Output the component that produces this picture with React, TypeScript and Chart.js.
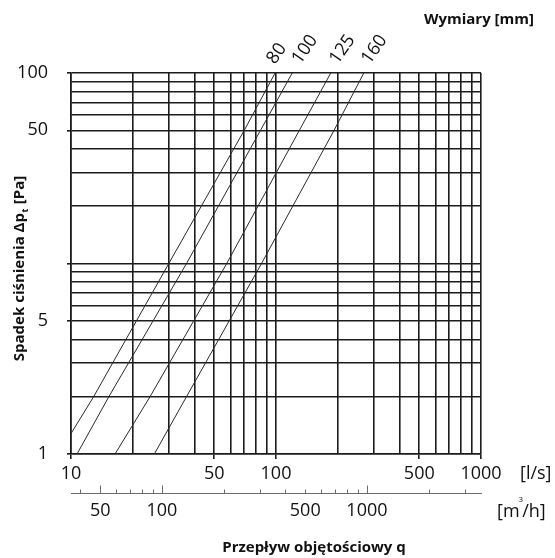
import React, { useEffect, useRef } from 'react';
import { Chart, registerables } from 'chart.js';

Chart.register(...registerables);

// ---- data ----
const flowGrid = [10, 20, 30, 40, 50, 60, 70, 80, 90, 100, 200, 300, 400, 500, 600, 700, 800, 900, 1000];
const flowLabels = [10, 50, 100, 500, 1000];
const pressureGrid = [1, 2, 3, 4, 5, 6, 7, 8, 9, 10, 20, 30, 40, 50, 60, 70, 80, 90, 100];
const pressureLabels = [1, 5, 50, 100];
const pressureTickMarks = [1, 5, 10, 50, 100];
const m3hLabels = [50, 100, 500, 1000];
const m3hMajorTicks = [50, 100, 1000];
const m3hMinorTicks = [40, 60, 70, 80, 90, 200, 300, 400, 500, 600, 700, 800, 900, 2000, 3000];
const LS_TO_M3H = 3.6;

const ductSizes = ['80', '100', '125', '160'];
const flow80 = [10, 12.9, 30, 70, 99];
const dp80 = [1.28, 2, 10, 50, 100];
const flow100 = [10.7, 15.3, 36.6, 84, 120];
const dp100 = [1, 2, 10, 50, 100];
const flow125 = [16.4, 24.3, 57.5, 130, 185];
const dp125 = [1, 2, 10, 50, 100];
const flow160 = [25.5, 36.6, 85, 192, 268];
const dp160 = [1, 2, 10, 50, 100];

const seriesFlows = [flow80, flow100, flow125, flow160];
const seriesDps = [dp80, dp100, dp125, dp160];

// ---- style ----
const FONT = '"Open Sans", "Noto Sans", "DejaVu Sans", sans-serif';
const GRID = '#1c1c1c';
const INK = '#111111';
const labelDx = [0, 8, 7, 6];

const overlayPlugin = {
  id: 'overlay',
  afterDraw(chart: any) {
    const ctx = chart.ctx as CanvasRenderingContext2D;
    const x2 = chart.scales.x2;
    ctx.save();
    // secondary axis tick marks (upward)
    ctx.strokeStyle = '#6a6a6a';
    ctx.lineWidth = 1;
    const y0 = Math.round(x2.top) + 0.5;
    const drawTick = (v: number, len: number) => {
      const px = Math.round(x2.getPixelForValue(v)) + 0.5;
      ctx.beginPath();
      ctx.moveTo(px, y0);
      ctx.lineTo(px, y0 - len);
      ctx.stroke();
    };
    m3hMajorTicks.forEach((v) => drawTick(v, 8));
    m3hMinorTicks.forEach((v) => drawTick(v, 4));

    ctx.fillStyle = INK;
    // unit labels
    ctx.font = `18px ${FONT}`;
    ctx.textAlign = 'left';
    ctx.textBaseline = 'middle';
    ctx.fillText('[l/s]', 520, 474);
    const m1 = '[m';
    const m2 = '/h]';
    ctx.fillText(m1, 497, 512);
    const w1 = ctx.measureText(m1).width;
    ctx.font = `8px ${FONT}`;
    ctx.fillText('3', 497 + w1 - 1, 500);
    const ws = ctx.measureText('3').width;
    ctx.font = `18px ${FONT}`;
    ctx.fillText(m2, 497 + w1 + ws - 2, 512);

    // x title
    ctx.font = `bold 15px ${FONT}`;
    ctx.textAlign = 'center';
    ctx.fillText('Przepływ objętościowy q', 314, 548);

    // top right title
    ctx.textAlign = 'right';
    ctx.fillText('Wymiary [mm]', 534, 20);

    // y title with subscript
    ctx.save();
    ctx.translate(20, 269);
    ctx.rotate(-Math.PI / 2);
    ctx.textAlign = 'left';
    const a = 'Spadek ciśnienia Δp';
    const b = 't';
    const c = ' [Pa]';
    ctx.font = `bold 15px ${FONT}`;
    const wa = ctx.measureText(a).width;
    const wc = ctx.measureText(c).width;
    ctx.font = `bold 9px ${FONT}`;
    const wb = ctx.measureText(b).width;
    const sx = -(wa + wb + wc) / 2;
    ctx.font = `bold 15px ${FONT}`;
    ctx.fillText(a, sx, 0);
    ctx.font = `bold 9px ${FONT}`;
    ctx.fillText(b, sx + wa + 0.5, 5);
    ctx.font = `bold 15px ${FONT}`;
    ctx.fillText(c, sx + wa + wb + 1, 0);
    ctx.restore();

    // duct size labels at the top end of each line
    ctx.font = `18px ${FONT}`;
    ctx.textAlign = 'left';
    ctx.textBaseline = 'alphabetic';
    chart.data.datasets.forEach((ds: any, i: number) => {
      const meta = chart.getDatasetMeta(i);
      const pt = meta.data[meta.data.length - 1];
      ctx.save();
      ctx.translate(pt.x + labelDx[i], pt.y - 8);
      ctx.rotate((-55 * Math.PI) / 180);
      ctx.fillText(ds.label, 0, 0);
      ctx.restore();
    });
    ctx.restore();
  },
};

export default function App() {
  const ref = useRef<HTMLCanvasElement>(null);
  useEffect(() => {
    if (!ref.current) return;
    const datasets = ductSizes.map((label, i) => ({
      label,
      data: seriesFlows[i].map((q, j) => ({ x: q, y: seriesDps[i][j] })),
      borderColor: '#2a2a2a',
      borderWidth: 1,
      pointRadius: 0,
      fill: false,
      tension: 0,
    }));
    const chart = new Chart(ref.current, {
      type: 'line',
      data: { datasets },
      plugins: [overlayPlugin],
      options: {
        responsive: false,
        animation: false,
        devicePixelRatio: 1,
        layout: { padding: { left: 0, top: 73, right: 74, bottom: 0 } },
        plugins: { legend: { display: false }, tooltip: { enabled: false }, title: { display: false } },
        scales: {
          x: {
            type: 'logarithmic',
            position: 'bottom',
            min: flowGrid[0],
            max: flowGrid[flowGrid.length - 1],
            weight: 0,
            afterBuildTicks: (s: any) => {
              s.ticks = flowGrid.map((v) => ({ value: v }));
            },
            afterFit: (s: any) => {
              s.height = 39;
            },
            ticks: {
              autoSkip: false,
              maxRotation: 0,
              minRotation: 0,
              padding: 4,
              color: INK,
              font: { family: FONT, size: 18 },
              callback: (v: any) => (flowLabels.includes(Number(v)) ? String(v) : ''),
            },
            grid: {
              color: GRID,
              lineWidth: 1.6,
              tickLength: 5,
              tickColor: (c: any) => (c.tick && flowLabels.includes(c.tick.value) ? GRID : 'rgba(0,0,0,0)'),
            },
            border: { display: true, color: GRID, width: 1.6 },
          },
          x2: {
            type: 'logarithmic',
            position: 'bottom',
            min: flowGrid[0] * LS_TO_M3H,
            max: flowGrid[flowGrid.length - 1] * LS_TO_M3H,
            weight: 1,
            afterBuildTicks: (s: any) => {
              s.ticks = m3hLabels.map((v) => ({ value: v }));
            },
            afterFit: (s: any) => {
              s.height = 65;
            },
            ticks: {
              autoSkip: false,
              maxRotation: 0,
              minRotation: 0,
              padding: 7,
              color: INK,
              font: { family: FONT, size: 18 },
              callback: (v: any) => String(v),
            },
            grid: { display: false, drawOnChartArea: false, drawTicks: false },
            border: { display: true, color: '#6a6a6a', width: 1 },
          },
          y: {
            type: 'logarithmic',
            position: 'left',
            min: pressureGrid[0],
            max: pressureGrid[pressureGrid.length - 1],
            afterBuildTicks: (s: any) => {
              s.ticks = pressureGrid.map((v) => ({ value: v }));
            },
            afterFit: (s: any) => {
              s.width = 71;
            },
            ticks: {
              autoSkip: false,
              padding: 19,
              color: INK,
              font: { family: FONT, size: 18 },
              callback: (v: any) => (pressureLabels.includes(Number(v)) ? String(v) : ''),
            },
            grid: {
              color: GRID,
              lineWidth: 1.6,
              tickLength: 4,
              tickColor: (c: any) => (c.tick && pressureTickMarks.includes(c.tick.value) ? GRID : 'rgba(0,0,0,0)'),
            },
            border: { display: true, color: GRID, width: 1.6 },
          },
        },
      } as any,
    });
    return () => chart.destroy();
  }, []);
  return (
    <div style={{ position: 'absolute', left: 0, top: 0, width: 555, height: 558, background: '#fff' }}>
      <canvas ref={ref} width={555} height={558} style={{ display: 'block', width: 555, height: 558 }} />
    </div>
  );
}
